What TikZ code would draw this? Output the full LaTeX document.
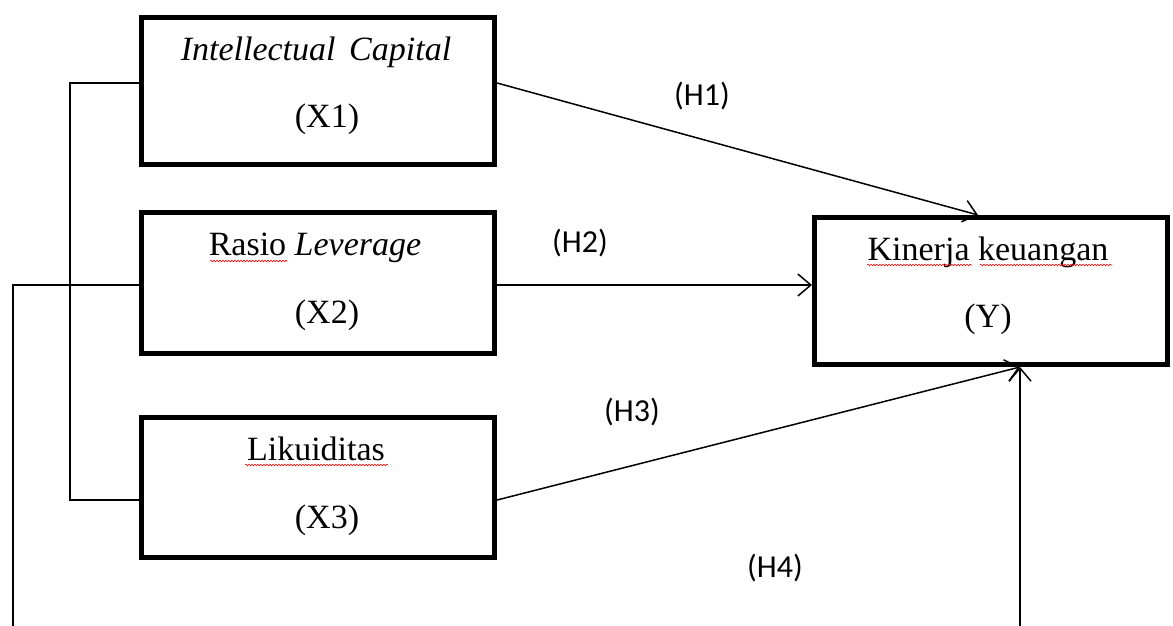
\documentclass[tikz,border=0pt]{standalone}
\usepackage{fontspec}
\setmainfont{Liberation Serif}
\newfontfamily\labfont{Carlito}
\usetikzlibrary{arrows.meta,decorations.pathmorphing}
\begin{document}
\begin{tikzpicture}[x=1pt,y=-1pt,
  box/.style={draw,line width=5pt,minimum width=353pt,inner sep=0pt},
  txt/.style={font=\fontsize{34}{40}\selectfont,anchor=base,inner sep=0pt},
  lab/.style={font=\labfont\fontsize{32}{38}\selectfont,anchor=base,inner sep=0pt},
  conn/.style={line width=1.5pt},
  arr/.style={conn,-{Straight Barb[length=13pt,width=22pt]}},
  squig/.style={red,line width=0.6pt,decorate,decoration={snake,amplitude=0.8pt,segment length=3pt}}]
\useasboundingbox (0,0) rectangle (1173,626);
% boxes
\node[box,minimum height=147pt] (X1) at (318,91) {};
\node[box,minimum height=141pt] (X2) at (318,283) {};
\node[box,minimum height=140pt] (X3) at (318,487.5) {};
\node[box,minimum height=147pt] (Y) at (991,291) {};
% texts
\node[txt] (t1) at (316,60) {\itshape Intellectual\hspace{0.4em}Capital};
\node[txt] (t1b) at (327,128) {(X1)};
\node[txt] (t2) at (315,255) {Rasio \textit{Leverage}};
\node[txt] (t2b) at (327,323) {(X2)};
\node[txt] (t3) at (316,460) {Likuiditas};
\node[txt] (t3b) at (327,528) {(X3)};
\node[txt] (ty) at (988,260) {Kinerja keuangan};
\node[txt] (tyb) at (988,327) {(Y)};
% spell-check squiggles
\draw[squig] (210,261) -- (287,261);
\draw[squig] (245,465) -- (388,465);
\draw[squig] (867,265) -- (972,265);
\draw[squig] (980,265) -- (1112,265);
% labels
\node[lab] (h1) at (702,106) {(H1)};
\node[lab] (h2) at (580,252) {(H2)};
\node[lab] (h3) at (632,421) {(H3)};
\node[lab] (h4) at (775,577) {(H4)};
% helper coordinates
\coordinate (a1) at (0,83);
\coordinate (a2) at (0,285);
\coordinate (a3) at (0,500);
\coordinate (L1) at (70,83);
\coordinate (L2) at (70,500);
\coordinate (B1) at (13,285);
\coordinate (B2) at (13,626);
\coordinate (B3) at (1020,626);
\coordinate (c1) at (978,0);
% connectors
\draw[conn] (X1.west |- a1) -- (L1) -- (L2) -- (X3.west |- a3);
\draw[conn] (X2.west |- a2) -- (B1) -- (B2);
\draw[arr] (B3) -- (Y.south -| B3);
\draw[arr] (X1.east |- a1) -- (Y.north -| c1);
\draw[arr] (X2.east |- a2) -- (Y.west |- a2);
\draw[arr] (X3.east |- a3) -- (Y.south -| B3);
\end{tikzpicture}
\end{document}
